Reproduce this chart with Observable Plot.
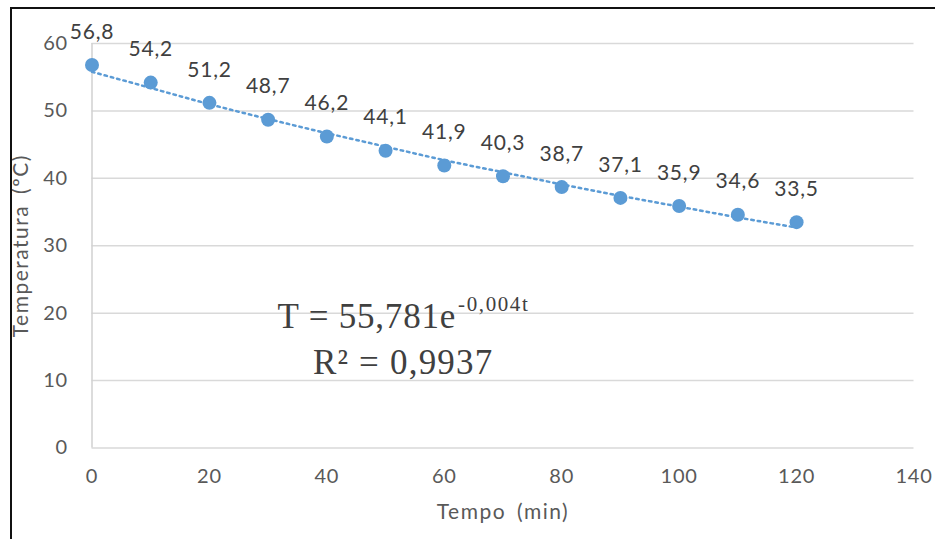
<!DOCTYPE html>
<html><head><meta charset="utf-8">
<script src="https://cdn.jsdelivr.net/npm/d3@7"></script>
<script src="https://cdn.jsdelivr.net/npm/@observablehq/plot@0.6"></script>
<style>
body{margin:0;background:#fff;}
#wrap{position:relative;width:935px;height:539px;overflow:hidden;background:#fff}
#frame{position:absolute;left:10px;top:7px;width:940px;height:545px;border-left:2px solid #111;border-top:2px solid #111;pointer-events:none}
</style></head><body><div id="wrap"><div id="frame"></div></div>
<script>
const tempo = [0,10,20,30,40,50,60,70,80,90,100,110,120];
const temperatura = [56.8,54.2,51.2,48.7,46.2,44.1,41.9,40.3,38.7,37.1,35.9,34.6,33.5];
const rotulos = ["56,8","54,2","51,2","48,7","46,2","44,1","41,9","40,3","38,7","37,1","35,9","34,6","33,5"];
const tendencia = [55.8,53.4,51.0,48.8,46.7,44.7,42.7,40.9,39.1,37.4,35.8,34.2,32.7];
const xTicks = [0,20,40,60,80,100,120,140];
const yTicks = [0,10,20,30,40,50,60];
const tituloX = "Tempo (min)";
const tituloY = "Temperatura (ºC)";
const equacao = "T = 55,781e";
const expoente = "-0,004t";
const r2 = "R² = 0,9937";

const pontos = tempo.map((t,i)=>({t, T: temperatura[i], rot: rotulos[i], tr: tendencia[i]}));
const azul = "#5b9bd5";

const svg = Plot.plot({
  width: 935, height: 539,
  marginLeft: 91.5, marginRight: 21.5, marginTop: 43, marginBottom: 91.5,
  style: {fontFamily: "Lato, sans-serif", color: "#595959", background: "#fff", overflow: "visible"},
  x: {domain: [0,140]},
  y: {domain: [0,60]},
  marks: [
    Plot.gridY(yTicks, {stroke: "#d9d9d9", strokeOpacity: 1, strokeWidth: 1.5}),
    Plot.ruleX([0], {stroke: "#d0d0d0", strokeWidth: 1.5}),
    Plot.axisX(xTicks, {tickSize: 0, tickPadding: 21, fontSize: 20, label: null}),
    Plot.axisY(yTicks, {tickSize: 0, tickPadding: 24, fontSize: 20, label: null}),
    Plot.text([tituloX], {frameAnchor: "bottom", dy: 70.5, fontSize: 21, fill: "#595959"}),
    Plot.text([tituloY], {frameAnchor: "left", textAnchor: "middle", dx: -71, rotate: -90, fontSize: 21, fill: "#595959"}),
    Plot.line(pontos, {x: "t", y: "tr", curve: "natural", stroke: azul, strokeWidth: 2.5, strokeDasharray: "2.5 4"}),
    Plot.dot(pontos, {x: "t", y: "T", r: 7, fill: azul}),
    Plot.text(pontos, {x: "t", y: "T", text: "rot", dy: -33, fontSize: 21, fill: "#404040"}),
    Plot.text([equacao], {x: 31.6, y: 17.87, textAnchor: "start", lineAnchor: "bottom", fontFamily: "Liberation Serif", fontSize: 35, fill: "#404040"}),
    Plot.text([r2], {x: 53.0, y: 11.05, textAnchor: "middle", lineAnchor: "bottom", fontFamily: "Liberation Serif", fontSize: 35, fill: "#404040"})
  ]
});
const sel = d3.select(svg);
sel.selectAll("text").filter(function(){ return this.textContent === equacao; })
  .attr("letter-spacing", 0.8)
  .append("tspan").attr("dy", -17).attr("dx", 2).attr("font-size", 21).attr("letter-spacing", 1.6).text(expoente);
sel.selectAll("text").filter(function(){ return this.textContent === r2; }).attr("letter-spacing", 1.2);
sel.selectAll("text").filter(function(){ return this.textContent === tituloX || this.textContent === tituloY; })
  .attr("letter-spacing", 1.5).attr("word-spacing", 4);
sel.selectAll("text").filter(function(){ return rotulos.includes(this.textContent); }).attr("letter-spacing", 0.8);
sel.selectAll("g[aria-label='x-axis tick label'], g[aria-label='y-axis tick label']").attr("letter-spacing", 0.8);
document.getElementById("wrap").prepend(svg);
</script></body></html>
